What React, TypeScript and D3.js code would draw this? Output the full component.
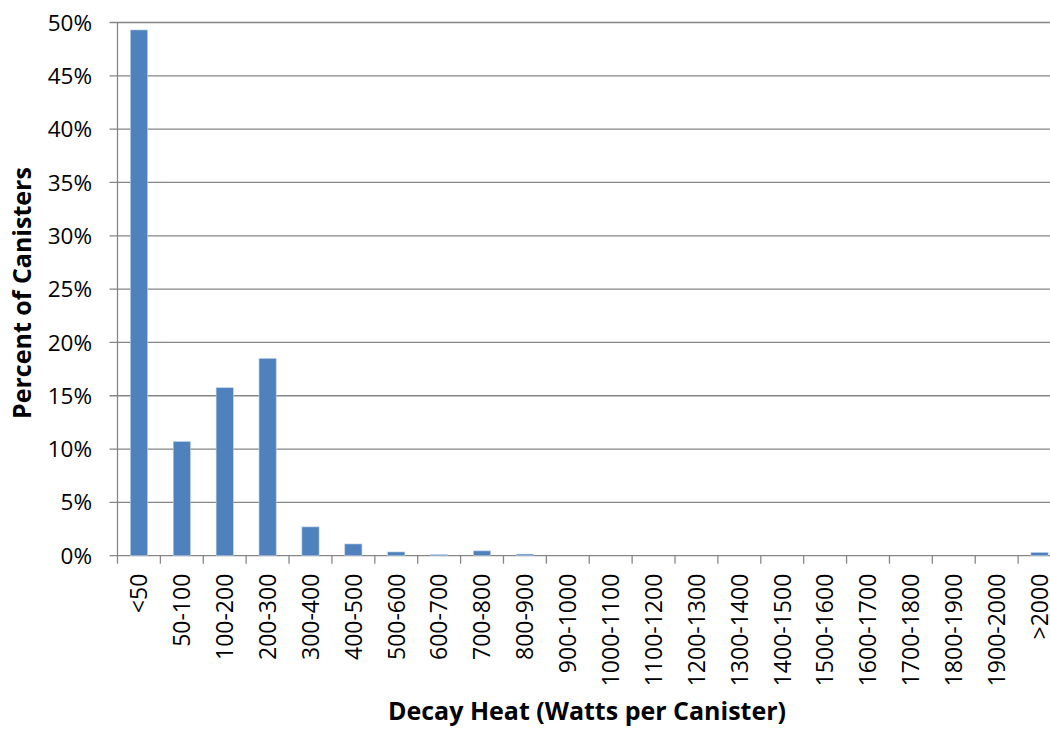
import React from "react";
import * as d3 from "d3";

const categories = ["<50","50-100","100-200","200-300","300-400","400-500","500-600","600-700","700-800","800-900","900-1000","1000-1100","1100-1200","1200-1300","1300-1400","1400-1500","1500-1600","1600-1700","1700-1800","1800-1900","1900-2000",">2000"];
const percents = [49.3,10.7,15.75,18.5,2.7,1.1,0.35,0.1,0.45,0.15,0,0,0,0,0,0,0,0,0,0,0,0.3];
const yTicks = [0,5,10,15,20,25,30,35,40,45,50];

export default function App() {
  const W = 1050, H = 729;
  const left = 117.5, right = 1061, top = 22.5, bottom = 555.7;
  const x = d3.scaleBand<string>().domain(categories).range([left, right]).paddingInner(0.6).paddingOuter(0.3);
  const xb = d3.scaleBand<string>().domain(categories).range([left, right]);
  const y = d3.scaleLinear().domain([0, 50]).range([bottom, top]);
  const font = "'Open Sans', sans-serif";
  const grid = "#868686";
  return (
    <svg width={W} height={H} style={{ position: "absolute", left: 0, top: 0, background: "#fff" }}>
      {yTicks.map(t => (
        <g key={t}>
          <line x1={left - 8} x2={right} y1={y(t)} y2={y(t)} stroke={grid} strokeWidth={1.3} />
          <text x={92} y={y(t)} dy="0.36em" textAnchor="end" fontFamily={font} fontSize={22.5} fill="#000">{t}%</text>
        </g>
      ))}
      <line x1={left} x2={left} y1={top} y2={bottom} stroke={grid} strokeWidth={1.3} />
      {categories.map((c, i) => (
        <line key={"t" + i} x1={xb(c)!} x2={xb(c)!} y1={bottom} y2={bottom + 8} stroke={grid} strokeWidth={1.3} />
      ))}
      <line x1={right} x2={right} y1={bottom} y2={bottom + 8} stroke={grid} strokeWidth={1.3} />
      {categories.map((c, i) => {
        const v = percents[i];
        if (v <= 0) return null;
        const yt = y(v);
        return (
          <rect key={"b" + i} x={x(c)!} y={yt} width={x.bandwidth()} height={bottom - yt}
            fill="#4f81bd" stroke="#b9cde5" strokeWidth={0.6} />
        );
      })}
      {categories.map((c, i) => {
        const cx = xb(c)! + xb.bandwidth() / 2;
        return (
          <text key={"l" + i} transform={`translate(${cx},${bottom + 18}) rotate(-90)`} dy="0.36em"
            textAnchor="end" fontFamily={font} fontSize={23} fill="#000">{c}</text>
        );
      })}
      <text transform={`translate(22,${(top + bottom) / 2 + 4}) rotate(-90)`} dy="0.36em" textAnchor="middle"
        fontFamily={font} fontWeight="bold" fontSize={25} fill="#000">Percent of Canisters</text>
      <text x={587} y={711} dy="0.36em" textAnchor="middle" fontFamily={font} fontWeight="bold" fontSize={25} fill="#000">Decay Heat (Watts per Canister)</text>
    </svg>
  );
}
